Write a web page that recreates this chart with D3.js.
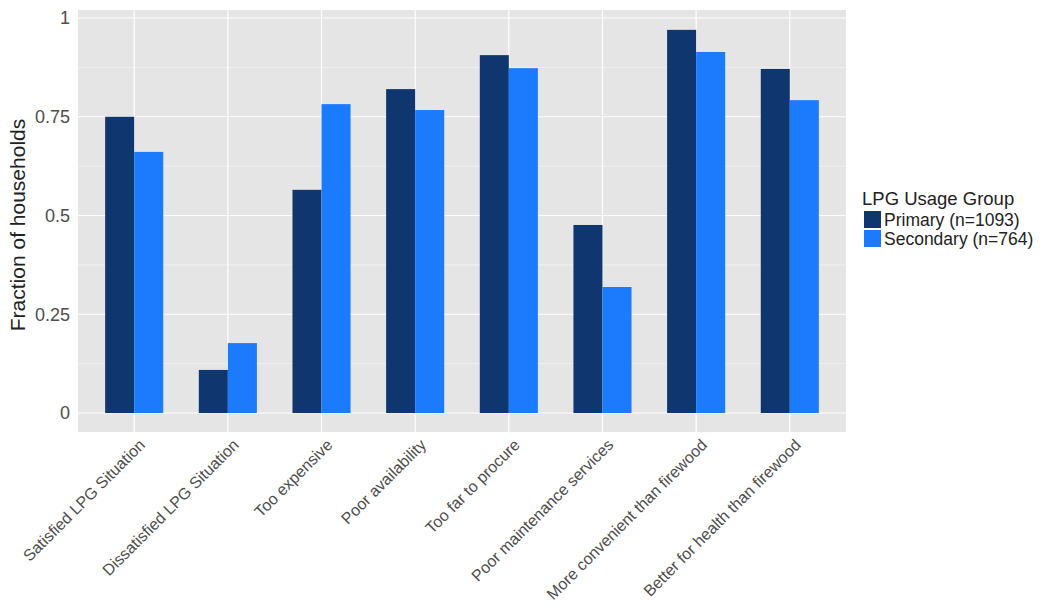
<!DOCTYPE html>
<html>
<head>
<meta charset="utf-8">
<script src="https://cdn.jsdelivr.net/npm/d3@7"></script>
<style>
  body { margin: 0; background: #fff; }
  text { font-family: "Liberation Sans", Arial, sans-serif; }
</style>
</head>
<body>
<svg width="1050" height="616"></svg>
<script>
// categories and series
var categories = ["Satisfied LPG Situation", "Dissatisfied LPG Situation", "Too expensive",
  "Poor availability", "Too far to procure", "Poor maintenance services",
  "More convenient than firewood", "Better for health than firewood"];
var groups = ["Primary (n=1093)", "Secondary (n=764)"];
var primary = [0.750, 0.109, 0.565, 0.820, 0.906, 0.476, 0.970, 0.871];
var secondary = [0.661, 0.177, 0.782, 0.767, 0.873, 0.319, 0.914, 0.792];
var yTicks = [0, 0.25, 0.5, 0.75, 1];
var yTickLabels = ["0", "0.25", "0.5", "0.75", "1"];
var colors = ["#10366f", "#1c7bfc"];

var svg = d3.select("svg");
var panel = { left: 78, right: 846, top: 10, bottom: 432 };

// discrete scale with ggplot-like 0.6 expansion
var x = d3.scaleLinear()
  .domain([0.4, categories.length + 0.6])
  .range([panel.left, panel.right]);
var y = d3.scaleLinear().domain([0, 1]).range([413, 18]);

var rows = categories.map(function (c, i) {
  return { cat: c, i: i + 1, vals: [primary[i], secondary[i]] };
});

svg.append("rect")
  .attr("x", panel.left).attr("y", panel.top)
  .attr("width", panel.right - panel.left)
  .attr("height", panel.bottom - panel.top)
  .attr("fill", "#e5e5e5");

// minor grid
var minor = [0.125, 0.375, 0.625, 0.875];
svg.append("g").selectAll("line").data(minor).enter().append("line")
  .attr("x1", panel.left).attr("x2", panel.right)
  .attr("y1", function (d) { return y(d); }).attr("y2", function (d) { return y(d); })
  .style("stroke", "#f2f2f2").style("stroke-width", 0.8);

// major grid
svg.append("g").selectAll("line").data(yTicks).enter().append("line")
  .attr("x1", panel.left).attr("x2", panel.right)
  .attr("y1", function (d) { return y(d); }).attr("y2", function (d) { return y(d); })
  .style("stroke", "#fff").style("stroke-width", 1.2);
svg.append("g").selectAll("line").data(rows).enter().append("line")
  .attr("y1", panel.top).attr("y2", panel.bottom)
  .attr("x1", function (d) { return x(d.i); }).attr("x2", function (d) { return x(d.i); })
  .style("stroke", "#fff").style("stroke-width", 1.2);

// bars
var barW = 0.31;
var bars = svg.append("g").selectAll("g").data(rows).enter().append("g");
bars.selectAll("rect")
  .data(function (d) { return d.vals.map(function (v, k) { return { i: d.i, v: v, k: k }; }); })
  .enter().append("rect")
  .attr("x", function (d) { return x(d.i - barW + d.k * barW); })
  .attr("width", function (d) { return x(barW) - x(0); })
  .attr("y", function (d) { return y(d.v); })
  .attr("height", function (d) { return y(0) - y(d.v); })
  .attr("fill", function (d) { return colors[d.k]; });

// y tick labels
svg.append("g").selectAll("text").data(yTicks).enter().append("text")
  .attr("x", 70).attr("y", function (d) { return y(d); })
  .attr("dy", "0.35em")
  .attr("text-anchor", "end")
  .attr("font-size", "18px").attr("fill", "#4d4d4d")
  .text(function (d, i) { return yTickLabels[i]; });

// x tick labels
svg.append("g").selectAll("text").data(rows).enter().append("text")
  .attr("transform", function (d) { return "translate(" + (x(d.i) + 4) + ",438) rotate(-45)"; })
  .attr("text-anchor", "end")
  .attr("dy", "0.7em")
  .attr("font-size", "16px").attr("fill", "#4d4d4d")
  .text(function (d) { return d.cat; });

// y axis title
svg.append("text")
  .attr("transform", "translate(25," + ((panel.top + panel.bottom) / 2 + 4) + ") rotate(-90)")
  .attr("text-anchor", "middle")
  .attr("font-size", "21px").attr("fill", "#222")
  .text("Fraction of households");

// legend
var lg = svg.append("g").attr("transform", "translate(862,189)");
lg.append("text").attr("x", 0).attr("y", 16)
  .attr("font-size", "18.5px").attr("fill", "#222")
  .text("LPG Usage Group");
var items = lg.selectAll("g.item").data(groups).enter().append("g")
  .attr("transform", function (d, k) { return "translate(0," + (22 + k * 19) + ")"; });
items.append("rect").attr("x", 2).attr("y", 0).attr("width", 17).attr("height", 17)
  .attr("fill", function (d, k) { return colors[k]; });
items.append("text").attr("x", 22).attr("y", 9).attr("dy", "0.35em")
  .attr("font-size", "17.5px").attr("fill", "#222")
  .text(function (d) { return d; });
</script>
</body>
</html>
